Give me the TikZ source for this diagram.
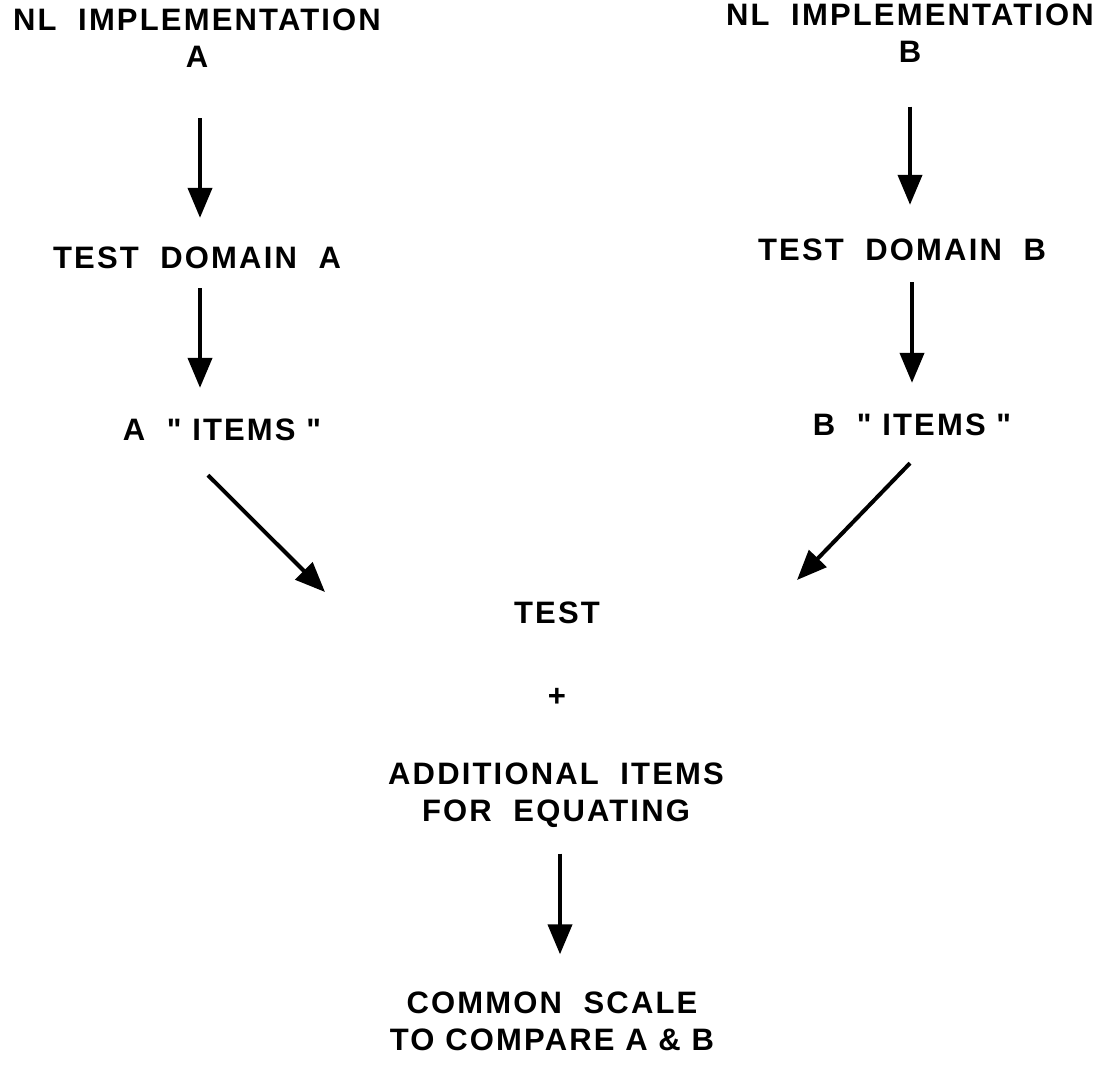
\documentclass[tikz,border=0pt]{standalone}
\usepackage{fontspec}
\usetikzlibrary{arrows.meta}
\newfontfamily\labfont[LetterSpace=7]{Liberation Sans}
\begin{document}
\begin{tikzpicture}[x=1pt,y=-1pt,
  lab/.style={inner sep=0pt,align=center,font=\labfont\bfseries\fontsize{31}{37}\selectfont},
  arr/.style={line width=4pt,-{Triangle[width=24pt,length=30pt]}}]
\useasboundingbox[fill=white] (0,0) rectangle (1107,1074);
% left column
\node[lab] (nla) at (197,38.5) {NL\ \ IMPLEMENTATION\\A};
\node[lab] (tda) at (197,258) {TEST\ \ DOMAIN\ \ A};
\node[lab] (ia) at (222,430) {A\ \ "\ ITEMS\ "};
% right column
\node[lab] (nlb) at (910,33) {NL\ \ IMPLEMENTATION\\B};
\node[lab] (tdb) at (902,250) {TEST\ \ DOMAIN\ \ B};
\node[lab] (ib) at (912,425) {B\ \ "\ ITEMS\ "};
% centre
\node[lab] (test) at (557,613) {TEST};
\node[lab] (plus) at (557,697) {+};
\node[lab] (add) at (556,795) {ADDITIONAL\ \ ITEMS\\FOR\ \ EQUATING};
\node[lab] (com) at (552,1021) {COMMON\ \ SCALE\\TO\ COMPARE\ A\ \&\ B};
% diagonal arrow ends
\coordinate (aout) at ([xshift=-14pt,yshift=-34pt]ia.south);
\coordinate (ain)  at ([xshift=-232pt,yshift=21pt]test.center);
\coordinate (bout) at ([xshift=-2pt,yshift=-27pt]ib.south);
\coordinate (bin)  at ([xshift=240pt,yshift=33pt]test.center);
% connectors
\draw[arr,shorten <=50pt,shorten >=29pt] ([xshift=3pt]nla.south) -- ([xshift=3pt]nla.south |- tda.north);
\draw[arr,shorten <=19pt,shorten >=31pt] ([xshift=3pt]tda.south) -- ([xshift=3pt]tda.south |- ia.north);
\draw[arr,shorten <=44pt,shorten >=34pt] (nlb.south) -- (nlb.south |- tdb.north);
\draw[arr,shorten <=21pt,shorten >=31pt] (ib.north |- tdb.south) -- (ib.north);
\draw[arr] (aout) -- (ain);
\draw[arr] (bout) -- (bin);
\draw[arr,shorten <=26pt,shorten >=37pt] ([xshift=4pt]add.south) -- ([xshift=4pt]add.south |- com.north);
\end{tikzpicture}
\end{document}
